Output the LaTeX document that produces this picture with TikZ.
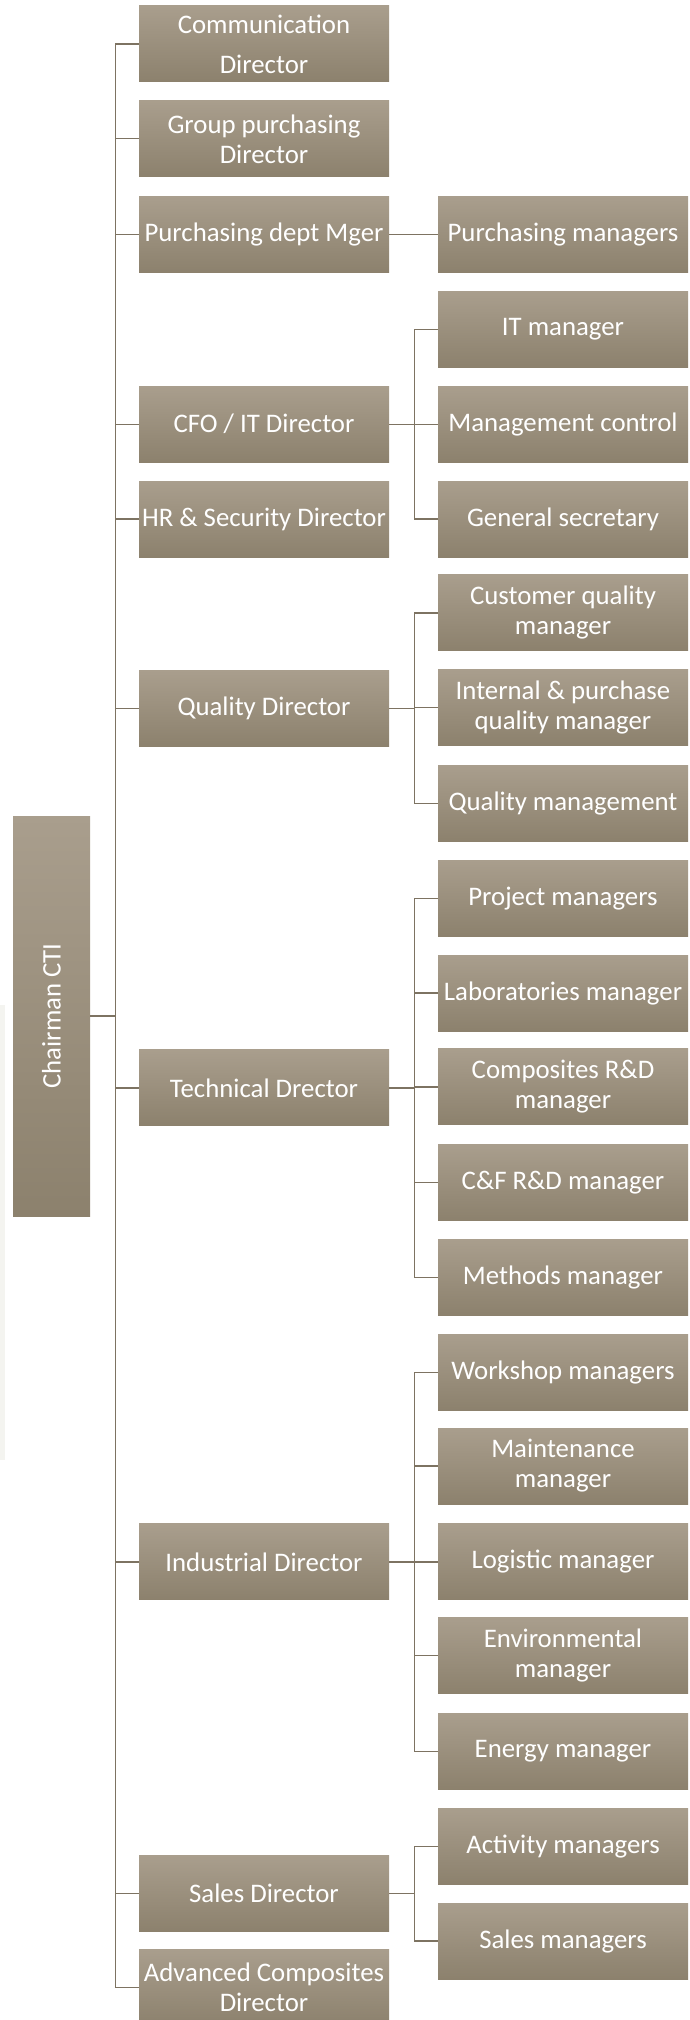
\documentclass[tikz,border=0pt]{standalone}
\usepackage{fontspec}
\setmainfont{Carlito}
\usepackage{graphicx}

\definecolor{boxtop}{RGB}{169,158,141}
\definecolor{boxbot}{RGB}{140,129,109}
\definecolor{linkcol}{RGB}{125,115,98}
\definecolor{edgegray}{RGB}{244,244,240}

\begin{document}
\begin{tikzpicture}[x=1pt, y=-1pt,
  box/.style={rectangle, top color=boxtop, bottom color=boxbot, text=white,
    minimum width=250pt, minimum height=76pt, inner sep=0pt, align=center,
    font=\fontsize{26.8}{30}\selectfont},
  link/.style={draw=linkcol, line width=1.4pt}]
\useasboundingbox (0,0) rectangle (689,2020);
% faint strip on the left edge
\fill[edgegray] (0,1005) rectangle (5,1460);

% chairman
\node[box, minimum width=77pt, minimum height=400pt] (chair) at (51.5,1016) {\rotatebox{90}{Chairman CTI}};

% directors
\node[box, font=\fontsize{26.8}{40}\selectfont] (comm) at (264,44) {Communication\\Director};
\node[box] (grpp) at (264,138.8) {Group purchasing\\Director};
\node[box] (purd) at (264,234.6) {Purchasing dept Mger};
\node[box] (cfo) at (264,424.2) {CFO / IT Director};
\node[box] (hrs) at (264,519) {HR \& Security Director};
\node[box] (qual) at (264,708.6) {Quality Director};
\node[box] (tech) at (264,1087.8) {Technical Drector};
\node[box] (indu) at (264,1561.8) {Industrial Director};
\node[box] (sale) at (264,1893.6) {Sales Director};
\node[box] (advc) at (264,1987.4) {Advanced Composites\\Director};

% managers
\node[box] (purm) at (563,234.6) {Purchasing managers};
\node[box] (itm) at (563,329.4) {IT manager};
\node[box] (mctl) at (563,424.2) {Management control};
\node[box] (gsec) at (563,519) {General secretary};
\node[box] (cusq) at (563,612.8) {Customer quality\\manager};
\node[box] (intq) at (563,707.6) {Internal \& purchase\\quality manager};
\node[box] (qmgt) at (563,803.4) {Quality management};
\node[box] (proj) at (563,898.2) {Project managers};
\node[box] (labs) at (563,993) {Laboratories manager};
\node[box] (comp) at (563,1086.8) {Composites R\&D\\manager};
\node[box] (cfrd) at (563,1182.6) {C\&F R\&D manager};
\node[box] (meth) at (563,1277.4) {Methods manager};
\node[box] (wksh) at (563,1372.2) {Workshop managers};
\node[box] (mnt) at (563,1466) {Maintenance\\manager};
\node[box] (logi) at (563,1561.8) {Logistic manager};
\node[box] (envi) at (563,1655.6) {Environmental\\manager};
\node[box] (ener) at (563,1751.4) {Energy manager};
\node[box] (actv) at (563,1846.2) {Activity managers};
\node[box] (salm) at (563,1941) {Sales managers};

% chairman to directors
\draw[link] (chair.east) -- ++(25,0) coordinate (trunk);
\foreach \d in {comm,grpp,purd,cfo,hrs,qual,tech,indu,sale,advc}
  \draw[link] (trunk) |- (\d.west);

% directors to managers
\draw[link] (purd) -- (purm);
\draw[link] (cfo.east) -- ++(25,0) coordinate (cfoj);
\foreach \m in {itm,mctl,gsec}
  \draw[link] (cfoj) |- (\m.west);
\draw[link] (qual.east) -- ++(25,0) coordinate (qualj);
\foreach \m in {cusq,intq,qmgt}
  \draw[link] (qualj) |- (\m.west);
\draw[link] (tech.east) -- ++(25,0) coordinate (techj);
\foreach \m in {proj,labs,comp,cfrd,meth}
  \draw[link] (techj) |- (\m.west);
\draw[link] (indu.east) -- ++(25,0) coordinate (induj);
\foreach \m in {wksh,mnt,logi,envi,ener}
  \draw[link] (induj) |- (\m.west);
\draw[link] (sale.east) -- ++(25,0) coordinate (salej);
\foreach \m in {actv,salm}
  \draw[link] (salej) |- (\m.west);

\end{tikzpicture}
\end{document}
